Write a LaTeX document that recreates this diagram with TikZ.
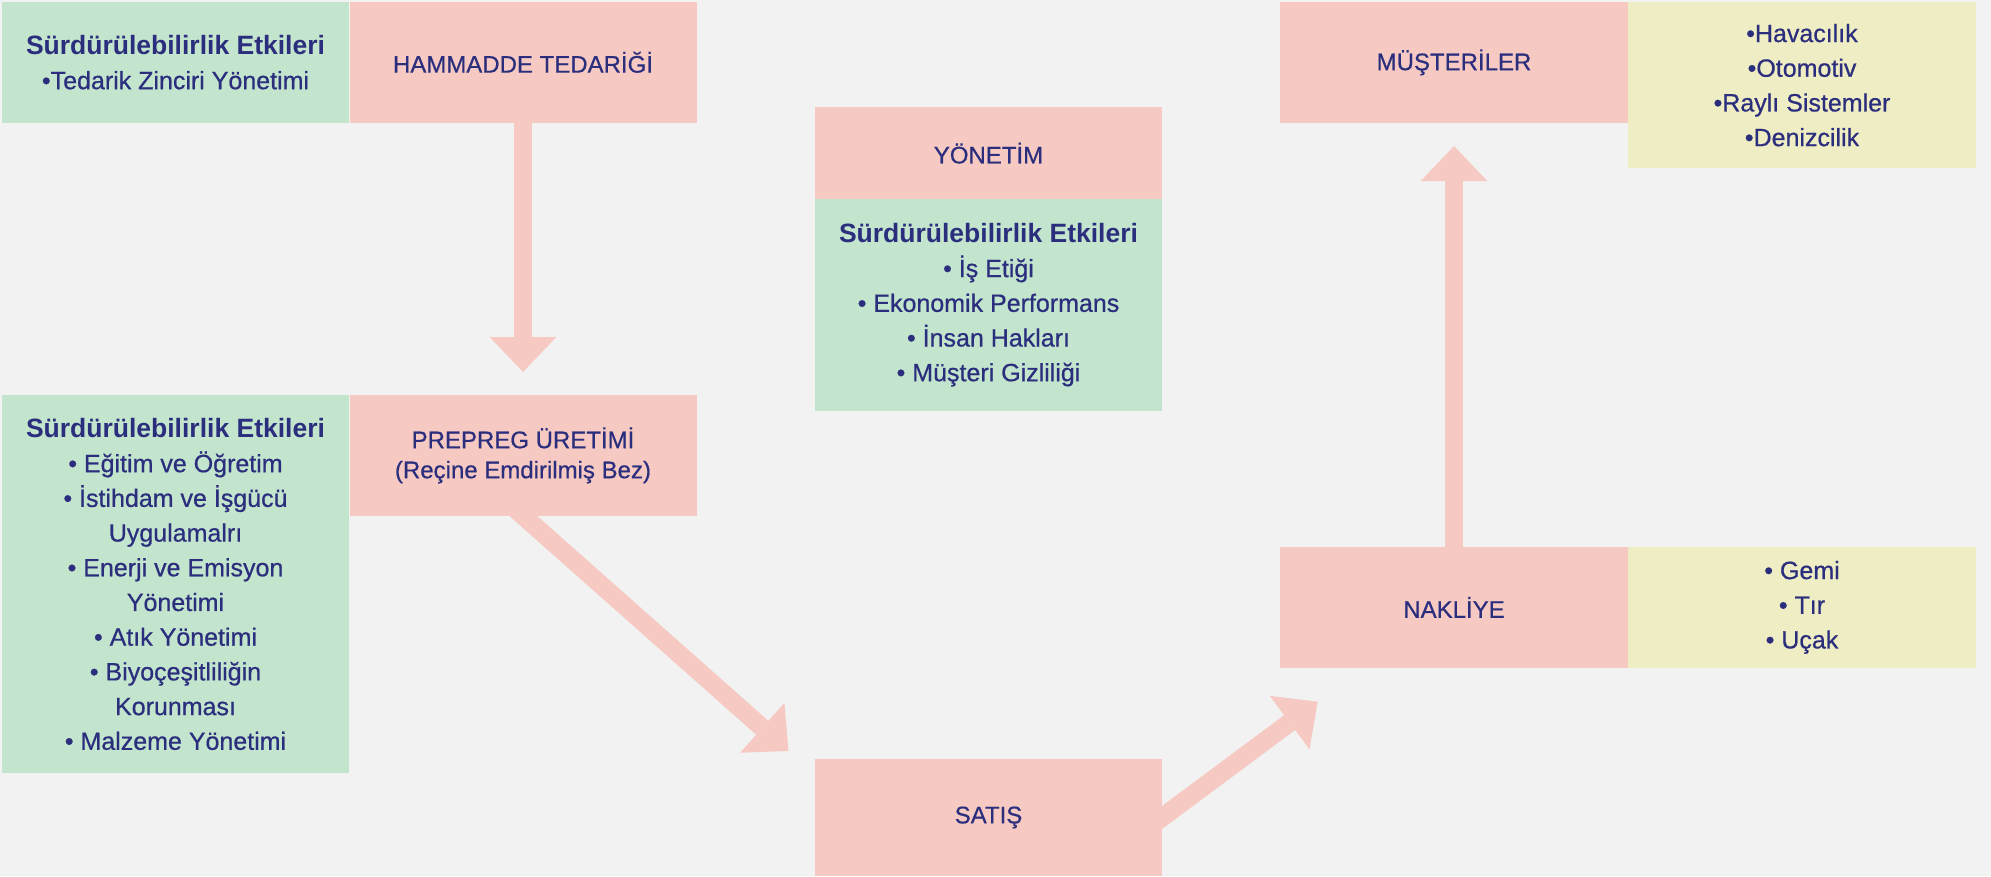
\documentclass[tikz,border=0pt]{standalone}
\usepackage{fontspec}
\setmainfont{Liberation Sans}
\newfontfamily\medfont{Liberation Sans}[FakeBold=0.6]
\usetikzlibrary{arrows.meta}
\definecolor{bgc}{RGB}{242,242,242}
\definecolor{pinkc}{RGB}{246,202,195}
\definecolor{greenc}{RGB}{195,228,205}
\definecolor{yellowc}{RGB}{239,237,195}
\definecolor{navy}{RGB}{43,46,125}
\pgfdeclarelayer{bg}
\pgfsetlayers{bg,main}
\newcommand\sehead[1]{{\normalfont\fontsize{26.5}{34.7}\selectfont\bfseries #1}}
\begin{document}
\begin{tikzpicture}[x=1pt,y=-1pt,
 box/.style={rectangle, inner sep=0pt, outer sep=0pt, anchor=north west, align=center, text=navy, minimum width=347pt},
 pinkbox/.style={box, fill=pinkc, font=\medfont\fontsize{24}{30}\selectfont},
 greenbox/.style={box, fill=greenc, font=\medfont\fontsize{25}{34.7}\selectfont},
 yellowbox/.style={box, fill=yellowc, font=\medfont\fontsize{25}{34.7}\selectfont},
 flow/.style={draw=pinkc, line width=18.5pt, -{Triangle[width=66.6pt,length=35pt,line width=0pt]}},
]
\useasboundingbox (0,0) rectangle (1991,876);
\begin{pgfonlayer}{bg}
\fill[bgc] (0,0) rectangle (1991,876);
\end{pgfonlayer}

\node[greenbox, minimum height=120.7pt] (g1) at (2,2) {\sehead{Sürdürülebilirlik Etkileri}\\•Tedarik Zinciri Yönetimi};
\node[pinkbox, minimum height=120.7pt] (ham) at (349.5,2) {HAMMADDE TEDARİĞİ};

\node[greenbox, minimum height=378.3pt] (g2) at (2,395) {\sehead{Sürdürülebilirlik Etkileri}\\• Eğitim ve Öğretim\\• İstihdam ve İşgücü\\Uygulamalrı\\• Enerji ve Emisyon\\Yönetimi\\• Atık Yönetimi\\• Biyoçeşitliliğin\\Korunması\\• Malzeme Yönetimi};
\node[pinkbox, minimum height=120.7pt] (prep) at (349.5,395) {PREPREG ÜRETİMİ\\(Reçine Emdirilmiş Bez)};

\node[pinkbox, minimum height=91.7pt] (yon) at (815,107.3) {YÖNETİM};
\node[greenbox, minimum height=211.7pt] (g3) at (815,199) {\sehead{Sürdürülebilirlik Etkileri}\\• İş Etiği\\• Ekonomik Performans\\• İnsan Hakları\\• Müşteri Gizliliği};

\node[pinkbox, minimum height=117pt] (satis) at (815,759) {SATIŞ};

\node[pinkbox, minimum height=120.7pt, minimum width=348pt] (mus) at (1280,2) {MÜŞTERİLER};
\node[yellowbox, minimum height=166.3pt, minimum width=348pt] (musl) at (1628,2) {•Havacılık\\•Otomotiv\\•Raylı Sistemler\\•Denizcilik};
\node[pinkbox, minimum height=120.7pt, minimum width=348pt] (nak) at (1280,547) {NAKLİYE};
\node[yellowbox, minimum height=120.7pt, minimum width=348pt] (nakl) at (1628,547) {• Gemi\\• Tır\\• Uçak};

\coordinate (t1) at (523,372);
\coordinate (t2) at (788.5,751);
\coordinate (t3) at (1317.7,701.7);
\coordinate (t4) at (1454,146);

\begin{pgfonlayer}{bg}
\draw[flow] (ham.south) -- (t1);
\draw[flow, shorten <=-15pt] (prep.south) -- (t2);
\draw[flow, shorten <=-15pt] (satis.east) -- (t3);
\draw[flow] (nak.north) -- (t4);
\end{pgfonlayer}
\end{tikzpicture}
\end{document}
